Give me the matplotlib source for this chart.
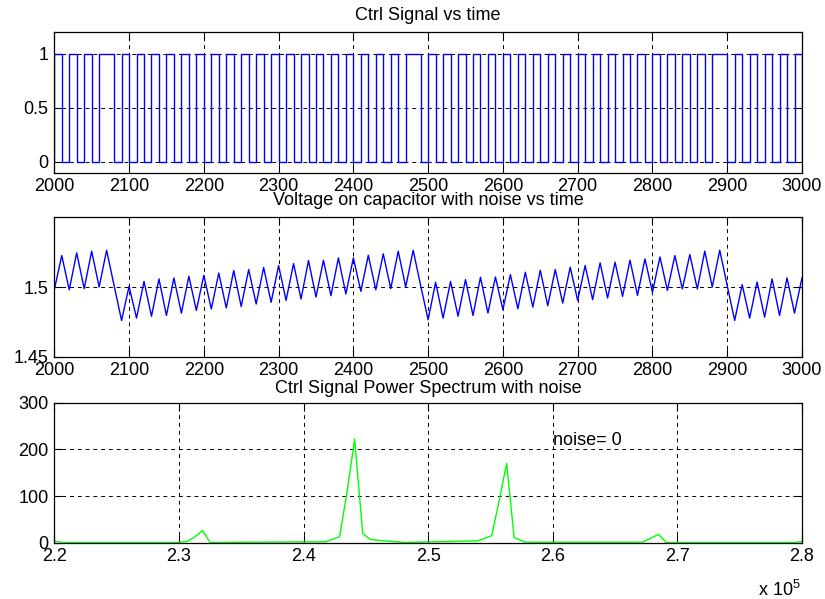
import numpy as np
import matplotlib
matplotlib.use('Agg')
import matplotlib.pyplot as plt
from matplotlib.ticker import FuncFormatter

plt.rcParams['font.family'] = ['Liberation Sans', 'DejaVu Sans']
plt.rcParams['mathtext.fontset'] = 'custom'
plt.rcParams['mathtext.rm'] = 'Liberation Sans'

# control signal, one bit per clock slot of 10 time units (2000 .. 2990)
ctrl_bits = [1, 0, 1, 0, 1, 0, 1, 1, 0, 1,
             0, 1, 0, 1, 0, 1, 0, 1, 0, 1,
             0, 1, 0, 1, 0, 1, 0, 1, 0, 1,
             0, 1, 0, 1, 0, 1, 0, 1, 0, 1,
             0, 1, 0, 1, 0, 1, 0, 1, 1, 0,
             1, 0, 1, 0, 1, 0, 1, 0, 1, 0,
             1, 0, 1, 0, 1, 0, 1, 0, 1, 0,
             1, 0, 1, 0, 1, 0, 1, 0, 1, 0,
             1, 0, 1, 0, 1, 0, 1, 0, 1, 1,
             0, 1, 0, 1, 0, 1, 0, 1, 0, 1]
t_start = 2000
slot = 10

# capacitor voltage at each slot boundary (2000 .. 3000)
volt_v = [1.498, 1.5226, 1.498, 1.5245, 1.4988, 1.5257, 1.500, 1.5264, 1.501, 1.476,
          1.5005, 1.4777, 1.504, 1.479, 1.5058, 1.4796, 1.5065, 1.4813, 1.5077, 1.4832,
          1.5084, 1.4842, 1.510, 1.485, 1.5118, 1.486, 1.5125, 1.4878, 1.514, 1.489,
          1.5154, 1.4904, 1.5168, 1.4914, 1.519, 1.4928, 1.5192, 1.4938, 1.5209, 1.495,
          1.5209, 1.4969, 1.5228, 1.498, 1.5238, 1.4988, 1.5257, 1.500, 1.5264, 1.501,
          1.4765, 1.5034, 1.4777, 1.504, 1.479, 1.5053, 1.4796, 1.507, 1.4813, 1.5072,
          1.4837, 1.5089, 1.4844, 1.5106, 1.4856, 1.512, 1.4866, 1.5125, 1.4885, 1.5142,
          1.4904, 1.5154, 1.4909, 1.5173, 1.4921, 1.5178, 1.4933, 1.5192, 1.494, 1.5202,
          1.4962, 1.5216, 1.4976, 1.5226, 1.4986, 1.5233, 1.4986, 1.5257, 1.500, 1.5264,
          1.501, 1.476, 1.5017, 1.4777, 1.5036, 1.4784, 1.5058, 1.4796, 1.5065, 1.4813,
          1.5065]

# power spectrum of the control signal
spec_f = [2.200e5, 2.206e5, 2.300e5, 2.307e5, 2.313e5, 2.319e5, 2.325e5,
          2.418e5, 2.429e5, 2.435e5, 2.441e5, 2.4475e5, 2.4535e5, 2.464e5, 2.474e5, 2.482e5,
          2.524e5, 2.540e5, 2.551e5, 2.557e5, 2.563e5, 2.569e5, 2.578e5,
          2.672e5, 2.685e5, 2.691e5, 2.795e5, 2.800e5]
spec_p = [4, 0.5, 0.5, 3, 13, 26, 0.5,
          2, 13, 110, 222, 20, 7, 4, 2, 0.5,
          3, 4, 15, 90, 170, 11, 1,
          1, 18, 0.5, 0.5, 3]

time_ticks = [2000, 2100, 2200, 2300, 2400, 2500, 2600, 2700, 2800, 2900, 3000]
freq_ticks = [2.2e5, 2.3e5, 2.4e5, 2.5e5, 2.6e5, 2.7e5, 2.8e5]
noise_level = 0

FS = 13


def style_axes(ax):
    ax.tick_params(direction='in', length=5.5, width=0.8, labelsize=FS, pad=4,
                   top=True, right=True)
    for sp in ax.spines.values():
        sp.set_linewidth(0.9)
    ax.grid(True, color='black', linestyle=(0, (4, 4)), linewidth=0.7)
    ax.set_axisbelow(True)


fig = plt.figure(figsize=(8.25, 5.99), dpi=100)
ax1 = fig.add_axes([0.0658, 0.7117, 0.9063, 0.2344])
ax2 = fig.add_axes([0.0658, 0.4045, 0.9063, 0.2327])
ax3 = fig.add_axes([0.0658, 0.0940, 0.9063, 0.2337])

# top: control signal
ctrl_t = t_start + slot * np.arange(len(ctrl_bits) + 1)
ctrl_y = ctrl_bits + [0]
ax1.plot(np.r_[t_start, ctrl_t], np.r_[0, ctrl_y], drawstyle='steps-post',
         color='#0000ff', linewidth=1.0)
ax1.set_xlim(2000, 3000)
ax1.set_ylim(-0.1, 1.2)
ax1.set_xticks(time_ticks)
ax1.set_yticks([0, 0.5, 1])
ax1.set_yticklabels(['0', '0.5', '1'])
ax1.set_title('Ctrl Signal vs time', fontsize=FS, pad=9)
style_axes(ax1)

# middle: capacitor voltage
volt_t = t_start + slot * np.arange(len(volt_v))
ax2.plot(volt_t, volt_v, color='#0000ff', linewidth=1.0)
ax2.set_xlim(2000, 3000)
ax2.set_ylim(1.45, 1.55)
ax2.set_xticks(time_ticks)
ax2.set_yticks([1.45, 1.5])
ax2.set_yticklabels(['1.45', '1.5'])
ax2.set_title('Voltage on capacitor with noise vs time', fontsize=FS, pad=9)
style_axes(ax2)

# bottom: spectrum
ax3.plot(spec_f, spec_p, color='#00ff00', linewidth=1.0)
ax3.set_xlim(2.2e5, 2.8e5)
ax3.set_ylim(0, 300)
ax3.set_xticks(freq_ticks)
ax3.xaxis.set_major_formatter(FuncFormatter(lambda v, p: '%g' % (v / 1e5)))
ax3.set_yticks([0, 100, 200, 300])
ax3.set_title('Ctrl Signal Power Spectrum with noise', fontsize=FS, pad=7)
ax3.text(2.6e5, 220, 'noise= %g' % noise_level, fontsize=FS, va='center', ha='left')
style_axes(ax3)

fig.text(758 / 825, 1 - 596 / 599, r'x 10$^{5}$', fontsize=FS, ha='left', va='baseline')

fig.savefig('out.png', dpi=100)
